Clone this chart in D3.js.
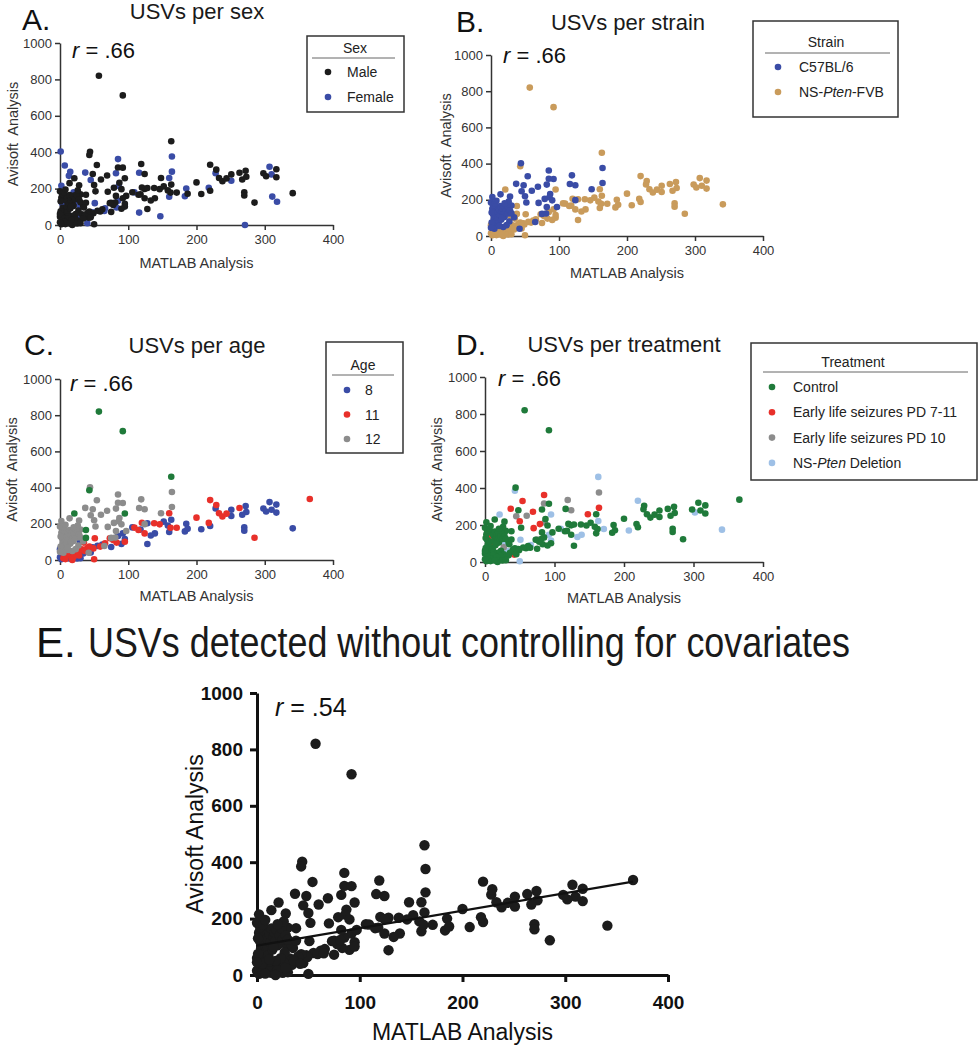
<!DOCTYPE html>
<html>
<head>
<meta charset="utf-8">
<script src="https://cdn.jsdelivr.net/npm/d3@7"></script>
<style>
  body { margin: 0; background: #fff; }
  svg text { font-family: "Liberation Sans", Arial, Helvetica, sans-serif; }
</style>
</head>
<body>
<div id="chart"></div>
<script>
// MATLAB vs Avisoft USV counts, one row per recording.
// c57 rows: [matlab, avisoft, sex, age, treatment]
const c57Records = [
  [44, 402, 'M', '12', 'C'], [54, 330, 'M', '12', 'E'], [37, 288, 'F', '12', 'E'],
  [48, 280, 'M', '12', 'C'], [45, 247, 'F', '12', 'P'], [50, 220, 'M', '12', 'E'],
  [52, 185, 'M', '12', 'C'], [60, 250, 'M', '12', 'P'], [69, 272, 'M', '12', 'E'],
  [82, 284, 'F', '12', 'C'], [85, 362, 'F', '12', 'E'], [85, 316, 'M', '12', 'P'],
  [92, 315, 'M', '12', 'C'], [87, 232, 'M', '12', 'C'], [86, 214, 'F', '12', 'P'],
  [79, 205, 'M', '12', 'E'], [70, 183, 'M', '12', 'E'], [65, 77, 'F', '12', 'C'],
  [75, 122, 'M', '12', 'P'], [81, 124, 'M', '12', 'C'], [90, 197, 'M', '12', 'C'],
  [82, 160, 'M', '12', 'C'], [119, 335, 'M', '12', 'P'], [116, 287, 'F', '12', 'C'],
  [124, 280, 'M', '12', 'P'], [124, 198, 'M', '12', 'C'], [148, 258, 'M', '12', 'E'],
  [164, 376, 'F', '12', 'P'], [164, 293, 'F', '12', 'E'], [14, 230, 'M', '12', 'C'],
  [28, 218, 'M', '12', 'C'], [42, 40, 'M', '12', 'E'], [22, 162, 'M', '12', 'C'],
  [30, 168, 'M', '12', 'C'], [34, 104, 'M', '12', 'C'], [2, 215, 'F', '12', 'C'],
  [2, 150, 'M', '12', 'C'], [3, 120, 'F', '12', 'C'], [4, 95, 'M', '12', 'C'],
  [5, 60, 'M', '12', 'C'], [6, 140, 'M', '12', 'E'], [7, 110, 'F', '12', 'C'],
  [8, 80, 'M', '12', 'C'], [9, 160, 'M', '12', 'C'], [10, 130, 'M', '12', 'P'],
  [10, 100, 'M', '12', 'E'], [11, 70, 'M', '12', 'C'], [12, 145, 'F', '12', 'C'],
  [13, 115, 'M', '12', 'C'], [14, 165, 'M', '12', 'C'], [15, 90, 'M', '12', 'C'],
  [16, 135, 'M', '12', 'C'], [17, 150, 'F', '12', 'C'], [18, 120, 'M', '12', 'C'],
  [19, 160, 'M', '12', 'C'], [20, 105, 'M', '12', 'C'], [22, 140, 'M', '12', 'C'],
  [24, 165, 'M', '12', 'C'], [25, 125, 'F', '12', 'C'], [5, 40, 'M', '12', 'C'],
  [1, 75, 'M', '12', 'C'], [3, 170, 'M', '12', 'C'], [26, 190, 'M', '12', 'C'],
  [0, 185, 'M', '12', 'C'], [6, 180, 'M', '12', 'C'], [20, 180, 'F', '12', 'C'],
  [28, 140, 'M', '12', 'C'], [27, 80, 'M', '12', 'P'], [23, 60, 'M', '12', 'C'],
  [18, 50, 'M', '12', 'C'], [1, 130, 'M', '12', 'C'], [8, 195, 'M', '12', 'C'],
  [12, 55, 'F', '12', 'C'], [30, 125, 'M', '12', 'C'], [0, 45, 'M', '12', 'C'],
  [16, 100, 'M', '12', 'C'], [97, 160, 'M', '12', 'C']
];

// NS-Pten-FVB rows: [matlab, avisoft, sex, age, treatment]  (age 'x' = not in legend)
const fvbRecords = [
  [57, 820, 'M', 'x', 'C'], [92, 712, 'M', 'x', 'C'], [163, 460, 'M', 'x', 'N'],
  [43, 385, 'M', 'x', 'N'], [21, 257, 'M', 'x', 'N'], [95, 257, 'M', 'x', 'N'],
  [38, 166, 'M', 'x', 'C'], [38, 122, 'M', 'x', 'C'],
  [285, 123, 'M', '11', 'C'], [220, 331, 'M', '11', 'N'], [229, 304, 'M', '11', 'C'],
  [233, 258, 'M', '11', 'C'], [238, 240, 'M', '11', 'C'], [244, 256, 'M', '11', 'C'],
  [263, 287, 'M', '11', 'C'], [200, 234, 'M', '11', 'C'], [218, 205, 'F', '11', 'C'],
  [171, 178, 'M', '11', 'N'], [160, 258, 'F', '11', 'C'], [162, 178, 'M', '11', 'C'],
  [146, 197, 'M', '11', 'C'], [138, 203, 'M', '11', 'C'], [120, 206, 'M', '11', 'C'],
  [124, 147, 'M', '11', 'C'], [115, 166, 'M', '11', 'C'], [109, 179, 'F', '11', 'N'],
  [95, 101, 'M', '11', 'C'], [83, 96, 'F', '11', 'C'], [78, 110, 'M', '11', 'C'],
  [73, 120, 'M', '11', 'C'], [66, 92, 'F', '11', 'N'], [59, 74, 'M', '11', 'C'],
  [49, 64, 'M', '11', 'C'], [43, 74, 'M', '11', 'C'], [50, 4, 'M', '11', 'N'],
  [51, 120, 'F', '11', 'N'], [40, 66, 'M', '11', 'C'], [32, 59, 'M', '11', 'N'],
  [22, 37, 'M', '11', 'C'], [17, 15, 'M', '11', 'C'], [10, 28, 'M', '11', 'C'],
  [5, 9, 'M', '11', 'C'], [27, 42, 'F', '11', 'C'], [12, 48, 'M', '11', 'C'],
  [8, 5, 'M', '11', 'C'], [20, 18, 'F', '11', 'C'], [28, 25, 'M', '11', 'C'],
  [3, 42, 'M', '11', 'C'], [18, 0, 'M', '11', 'C'], [36, 50, 'M', '11', 'C'],
  [35, 96, 'M', '11', 'C'],
  [341, 175, 'M', '8', 'N'], [307, 320, 'F', '8', 'C'], [298, 284, 'M', '8', 'C'],
  [317, 306, 'M', '8', 'C'], [317, 262, 'M', '8', 'C'], [310, 278, 'F', '8', 'C'],
  [302, 268, 'M', '8', 'N'], [272, 298, 'M', '8', 'C'], [273, 265, 'M', '8', 'C'],
  [267, 250, 'M', '8', 'C'], [270, 180, 'M', '8', 'C'], [270, 162, 'M', '8', 'C'],
  [251, 278, 'M', '8', 'C'], [251, 243, 'F', '8', 'C'], [228, 285, 'F', '8', 'C'],
  [220, 188, 'M', '8', 'C'], [207, 170, 'M', '8', 'N'], [185, 200, 'F', '8', 'C'],
  [183, 158, 'F', '8', 'C'], [187, 172, 'M', '8', 'C'], [163, 222, 'M', '8', 'N'],
  [152, 212, 'M', '8', 'C'], [158, 190, 'M', '8', 'C'], [160, 155, 'F', '8', 'C'],
  [128, 88, 'M', '8', 'C'], [128, 203, 'M', '8', 'C'], [139, 147, 'M', '8', 'N'],
  [133, 135, 'M', '8', 'N'], [106, 180, 'M', '8', 'C'], [118, 168, 'M', '8', 'C'],
  [95, 116, 'M', '8', 'N'], [92, 147, 'M', '8', 'N'], [85, 133, 'F', '8', 'C'],
  [75, 72, 'M', '8', 'C'], [62, 86, 'M', '8', 'C'], [55, 78, 'M', '8', 'C'],
  [48, 70, 'F', '8', 'C'], [29, 105, 'F', '8', 'N'], [22, 32, 'M', '8', 'C'],
  [12, 37, 'M', '8', 'C'], [7, 18, 'M', '8', 'C'], [2, 4, 'M', '8', 'C'],
  [17, 27, 'M', '8', 'C'], [0, 60, 'M', '8', 'C'], [3, 28, 'F', '8', 'C'],
  [14, 8, 'M', '8', 'C'], [25, 8, 'M', '8', 'C'], [34, 36, 'M', '8', 'C'],
  [0, 15, 'M', '8', 'C'], [30, 10, 'M', '8', 'C'], [45, 42, 'M', '8', 'C'],
  [90, 89, 'M', '8', 'C']
];

// rows without sex / strain: [matlab, avisoft, age, treatment]
const noStrainRecords = [[366, 337, '11', 'C']];
// rows only in the sex panel: [matlab, avisoft, sex]
const sexOnlyRecords = [
  [1, 404, 'F'], [7, 327, 'F'], [15, 292, 'F'], [13, 270, 'F'], [271, 0, 'F'],
  [147, 48, 'F'], [311, 156, 'F'], [318, 128, 'F'], [116, 68, 'F'], [40, 10, 'F']
];

const sexCodes = ['M', 'F'];
const sexLabels = ['Male', 'Female'];
const strainCodes = ['C57BL/6', 'NS-Pten-FVB'];
const strainLabels = ['C57BL/6', 'NS-Pten-FVB'];
const ageCodes = ['8', '11', '12', 'x'];
const ageLabels = ['8', '11', '12'];
const treatmentCodes = ['C', 'E', 'P', 'N'];
const treatmentLabels = ['Control', 'Early life seizures PD 7-11', 'Early life seizures PD 10', 'NS-Pten Deletion'];

const xTicks = [0, 100, 200, 300, 400];
const yTicks = [0, 200, 400, 600, 800, 1000];
const panelR = '.66';
const totalR = '.54';
const fitIntercept = 104;
const fitSlope = 0.62;

// colours
const BLUE = '#3a4ca6', BLACK = '#1c1c1c', TAN = '#c99b5b', RED = '#e8302a',
      GREY = '#8c8c8c', GREEN = '#1f7a3a', LIGHT = '#9ec0e6';

const records = [
  ...c57Records.map(r => ({ x: r[0], y: r[1], sex: r[2], strain: 'C57BL/6', age: r[3], trt: r[4] })),
  ...fvbRecords.map(r => ({ x: r[0], y: r[1], sex: r[2], strain: 'NS-Pten-FVB', age: r[3], trt: r[4] })),
  ...noStrainRecords.map(r => ({ x: r[0], y: r[1], sex: null, strain: null, age: r[2], trt: r[3] })),
  ...sexOnlyRecords.map(r => ({ x: r[0], y: r[1], sex: r[2], strain: null, age: null, trt: null }))
];

const svg = d3.select('#chart').append('svg')
  .attr('width', 980).attr('height', 1050);

// write text, with "Pten" and the leading "r" in italics
const richText = (sel, str) => {
  str.split(/(Pten|^r(?= ))/).filter(s => s).forEach(s => {
    sel.append('tspan').text(s)
      .attr('font-style', (s === 'Pten' || s === 'r') ? 'italic' : null);
  });
};

const styleAxis = (g, o) => {
  g.selectAll('path.domain').attr('stroke', o.axisColor).attr('stroke-width', o.axisWidth);
  g.selectAll('.tick line').attr('stroke', o.axisColor).attr('stroke-width', o.axisWidth);
  g.selectAll('.tick text')
    .attr('fill', o.textColor)
    .attr('font-size', o.tickFont)
    .attr('font-weight', o.bold ? 'bold' : null)
    .style('font-family', '"Liberation Sans", Arial, sans-serif');
};

const drawPanel = (p) => {
  const [left, top, w, h] = p.plot;
  const x = d3.scaleLinear().domain([0, 400]).range([left, left + w]);
  const y = d3.scaleLinear().domain([0, 1000]).range([top + h, top]);
  const g = svg.append('g');

  g.append('g')
    .attr('transform', `translate(0, ${top + h})`)
    .call(d3.axisBottom(x).tickValues(xTicks).tickFormat(d3.format('d'))
      .tickSize(p.tick).tickSizeOuter(0).tickPadding(p.padX))
    .call(s => styleAxis(s, p));

  g.append('g')
    .attr('transform', `translate(${left}, 0)`)
    .call(d3.axisLeft(y).tickValues(yTicks).tickFormat(d3.format('d'))
      .tickSize(p.tick).tickSizeOuter(0).tickPadding(p.padY))
    .call(s => styleAxis(s, p));

  // points
  const pts = records
    .filter(d => d[p.key] !== null)
    .sort((a, b) => p.order.indexOf(a[p.key]) - p.order.indexOf(b[p.key]));

  g.append('g').selectAll('circle')
    .data(pts)
    .join('circle')
    .attr('cx', d => x(d.x))
    .attr('cy', d => y(d.y))
    .attr('r', p.radius)
    .attr('fill', d => p.colors[d[p.key]]);

  if (p.fit) {
    const ext = d3.extent(pts, d => d.x);
    g.append('line')
      .attr('x1', x(0)).attr('y1', y(fitIntercept))
      .attr('x2', x(ext[1])).attr('y2', y(fitIntercept + fitSlope * ext[1]))
      .attr('stroke', '#111').attr('stroke-width', 2.2);
  }

  // texts
  svg.append('text').attr('x', p.letter[0]).attr('y', p.letter[1])
    .attr('font-size', p.letterFont).attr('fill', '#111').text(p.letterText);

  const t = svg.append('text').attr('x', p.titlePos[0]).attr('y', p.titlePos[1])
    .attr('font-size', p.titleFont).attr('fill', '#1a1a1a')
    .attr('text-anchor', p.titleAnchor || 'middle')
    .text(p.title);
  if (p.titleLength) t.attr('textLength', p.titleLength).attr('lengthAdjust', 'spacingAndGlyphs');

  const r = svg.append('text').attr('x', p.rPos[0]).attr('y', p.rPos[1])
    .attr('font-size', p.rFont).attr('fill', '#111');
  richText(r, `r = ${p.rValue}`);

  svg.append('text')
    .attr('x', left + w / 2).attr('y', p.xLabelY)
    .attr('text-anchor', 'middle').attr('font-size', p.labelFont).attr('fill', p.textColor)
    .text('MATLAB Analysis');

  svg.append('text')
    .attr('transform', `translate(${p.yLabelX}, ${top + h / 2}) rotate(-90)`)
    .attr('text-anchor', 'middle').attr('dy', '0.35em')
    .attr('font-size', p.labelFont).attr('fill', p.textColor)
    .style('white-space', 'pre')
    .text(p.yLabel);

  if (p.legend) drawLegend(p.legend, p.colors);
};

const drawLegend = (L, colors) => {
  const [bx, by, bw, bh] = L.box;
  const g = svg.append('g');
  g.append('rect').attr('x', bx).attr('y', by).attr('width', bw).attr('height', bh)
    .attr('fill', 'none').attr('stroke', '#333').attr('stroke-width', 1.5);
  g.append('text').attr('x', L.titleX).attr('y', L.titleY)
    .attr('text-anchor', 'middle').attr('font-size', 14).attr('fill', '#222').text(L.title);
  g.append('line').attr('x1', L.rule[0]).attr('x2', L.rule[1])
    .attr('y1', L.rule[2]).attr('y2', L.rule[2])
    .attr('stroke', '#666').attr('stroke-width', 1);
  L.labels.forEach((lab, i) => {
    const cy = L.itemY + i * L.step;
    g.append('circle').attr('cx', L.dotX).attr('cy', cy).attr('r', 3.3).attr('fill', colors[L.codes[i]]);
    const tx = g.append('text').attr('x', L.textX).attr('y', cy + 5)
      .attr('font-size', 14).attr('fill', '#222');
    richText(tx, lab);
  });
};

const small = {
  tick: 5, padX: 5, padY: 3, axisColor: '#333', axisWidth: 1.5, textColor: '#333',
  tickFont: 13, bold: false, radius: 3.3, letterFont: 30, titleFont: 22, rFont: 22,
  labelFont: 14.5, rValue: panelR, yLabel: 'Avisoft  Analysis'
};

const panels = [
  {
    ...small, key: 'sex', order: ['F', 'M'], colors: { M: BLACK, F: BLUE },
    plot: [60, 43, 273, 182], letter: [22, 30], letterText: 'A.',
    title: 'USVs per sex', titlePos: [197, 19], rPos: [72, 58], xLabelY: 268, yLabelX: 13,
    legend: { box: [307, 36, 97, 76], title: 'Sex', titleX: 355, titleY: 53, rule: [312, 395, 58],
      codes: sexCodes, labels: sexLabels, dotX: 328, textX: 347, itemY: 72, step: 25 }
  },
  {
    ...small, key: 'strain', order: strainCodes.slice().reverse(), colors: { 'C57BL/6': BLUE, 'NS-Pten-FVB': TAN },
    plot: [491, 55, 272, 181], letter: [456, 32], letterText: 'B.',
    title: 'USVs per strain', titlePos: [628, 30], rPos: [503, 63], xLabelY: 278, yLabelX: 446,
    legend: { box: [753, 21, 145, 96], title: 'Strain', titleX: 826, titleY: 47, rule: [765, 890, 53],
      codes: strainCodes, labels: strainLabels, dotX: 778, textX: 799, itemY: 67, step: 25 }
  },
  {
    ...small, key: 'age', order: ['8', '11', '12', 'x'], colors: { '8': BLUE, '11': RED, '12': GREY, x: GREEN },
    plot: [60, 379, 273, 181], letter: [24, 355], letterText: 'C.',
    title: 'USVs per age', titlePos: [197, 353], rPos: [70, 391], xLabelY: 601, yLabelX: 12,
    legend: { box: [326, 342, 77, 111], title: 'Age', titleX: 363, titleY: 370, rule: [332, 394, 375],
      codes: ageCodes, labels: ageLabels, dotX: 347, textX: 365, itemY: 390, step: 24.5 }
  },
  {
    ...small, key: 'trt', order: ['N', 'P', 'E', 'C'], colors: { C: GREEN, E: RED, P: GREY, N: LIGHT },
    plot: [485, 377, 278, 185], letter: [456, 355], letterText: 'D.',
    title: 'USVs per treatment', titlePos: [624, 352], rPos: [498, 386], xLabelY: 603, yLabelX: 437,
    legend: { box: [751, 343, 226, 137], title: 'Treatment', titleX: 853, titleY: 367, rule: [763, 968, 372],
      codes: treatmentCodes, labels: treatmentLabels, dotX: 772, textX: 793, itemY: 387, step: 25.3 }
  },
  {
    key: 'age', order: ageCodes, colors: { '8': BLACK, '11': BLACK, '12': BLACK, x: BLACK },
    tick: 7, padX: 14, padY: 7, axisColor: '#111', axisWidth: 3, textColor: '#111',
    tickFont: 19, bold: true, radius: 5.2, letterFont: 42, titleFont: 42, rFont: 25,
    labelFont: 23, rValue: totalR, yLabel: 'Avisoft Analysis', fit: true,
    plot: [257, 693, 411, 282], letter: [36, 657], letterText: 'E.',
    title: 'USVs detected without controlling for covariates', titlePos: [88, 657],
    titleAnchor: 'start', titleLength: 762,
    rPos: [275, 716], xLabelY: 1040, yLabelX: 195
  }
];

panels.forEach(drawPanel);
</script>
</body>
</html>
